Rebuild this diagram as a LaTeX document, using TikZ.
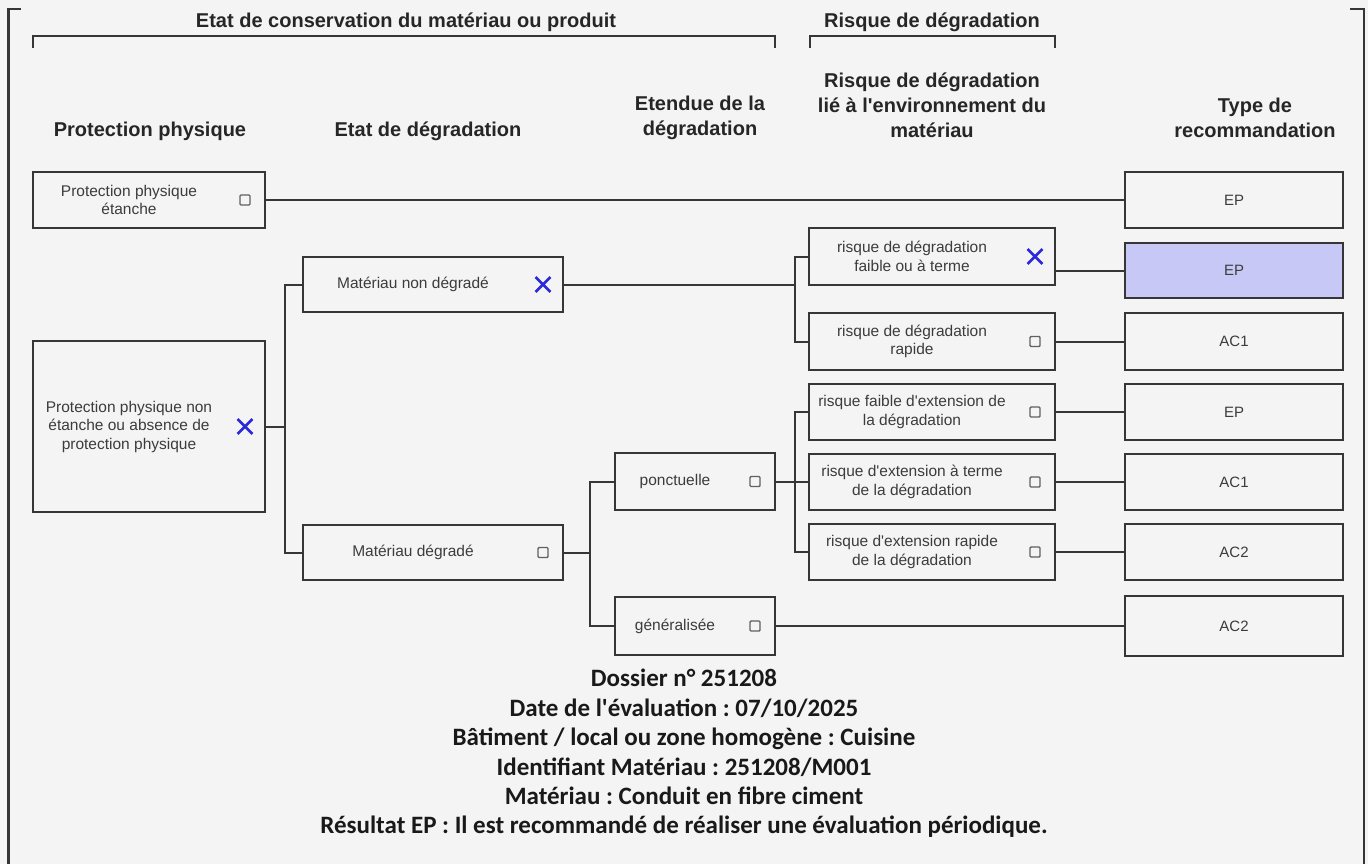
\documentclass[tikz,border=0pt]{standalone}
\usepackage{fontspec}
\setmainfont{Liberation Sans}
\newfontfamily\calibri{Carlito}
\usetikzlibrary{calc,shapes.misc}
\frenchspacing
\definecolor{bordgris}{HTML}{363636}
\definecolor{fondgris}{HTML}{F4F4F4}
\definecolor{lavande}{HTML}{C8C8F6}
\definecolor{croixbleu}{HTML}{2A2ADC}
\definecolor{textgris}{HTML}{3C3C3C}

% box with its text and its mark (case vide / croix)
\newcommand{\boite}[7]{%
  \node[box, minimum width=#4pt, minimum height=#5pt] (#1) at (#2,#3) {};
  \node[boxtext] (#1-t) at ($(#1.center)+(-20,0)$) {#6};
  \node[#7] (#1-m) at ($(#1.east)+(-21,0)$) {};
}

\begin{document}
\begin{tikzpicture}[x=1pt, y=-1pt,
  box/.style={draw=bordgris, line width=2pt, inner sep=0pt},
  boxtext/.style={align=center, text=textgris, font=\fontsize{15.5}{18.5}\selectfont},
  reco/.style={box, minimum width=218pt, minimum height=56pt, text=textgris, font=\fontsize{15}{18}\selectfont},
  header/.style={align=center, text=black!85, font=\fontsize{20}{25}\selectfont\bfseries},
  vide/.style={draw=gray!75!black, line width=1.4pt, rounded corners=1pt, minimum size=10pt, inner sep=0pt},
  croix/.style={draw=croixbleu, cross out, line width=2.8pt, minimum size=12pt, inner sep=0pt},
  lien/.style={draw=bordgris, line width=2pt}]

\fill[fondgris] (0,0) rectangle (1368,864);
\useasboundingbox (0,0) rectangle (1368,864);

% cadre
\draw[bordgris, line width=2.5pt] (21,9) -- (8.5,9) -- (8.5,864);
\draw[bordgris, line width=2.5pt] (1350,9) -- (1364,9) -- (1364,864);

% titres
\node[header] (hEtat) at (406,22) {Etat de conservation du matériau ou produit};
\node[header] (hRisque) at (932,22) {Risque de dégradation};
\draw[lien] (33,48) |- (775,36) -- (775,48);
\draw[lien] (810,48) |- (1055,36) -- (1055,48);

\node[header] (hProt) at (150,131) {Protection physique};
\node[header] (hDeg) at (428,131) {Etat de dégradation};
\node[header] (hEtendue) at (700,118) {Etendue de la\\dégradation};
\node[header] (hEnv) at (932,105) {Risque de dégradation\\lié à l\textquotesingle environnement du\\matériau};
\node[header] (hType) at (1255,118) {Type de\\recommandation};

% boites
\boite{pEtanche}{149}{200}{232}{56}{Protection physique\\étanche}{vide}
\boite{pNonEtanche}{149}{426.5}{232}{171}{Protection physique non\\étanche ou absence de\\protection physique}{croix}
\boite{matNonDeg}{433}{284.5}{260}{55}{Matériau non dégradé}{croix}
\boite{matDeg}{433}{552.5}{260}{55}{Matériau dégradé}{vide}
\boite{ponct}{695}{481.5}{160}{57}{ponctuelle}{vide}
\boite{general}{695}{626}{160}{58}{généralisée}{vide}
\boite{rFaible}{932}{256.5}{246}{57}{risque de dégradation\\faible ou à terme}{croix}
\boite{rRapide}{932}{341.5}{246}{57}{risque de dégradation\\rapide}{vide}
\boite{eFaible}{932}{412}{246}{56}{risque faible d\textquotesingle extension de\\la dégradation}{vide}
\boite{eTerme}{932}{482}{246}{56}{risque d\textquotesingle extension à terme\\de la dégradation}{vide}
\boite{eRapide}{932}{552}{246}{56}{risque d\textquotesingle extension rapide\\de la dégradation}{vide}

% recommandations
\node[reco] (T1) at (1234,200) {EP};
\node[reco, fill=lavande, minimum height=55pt] (T2) at (1234,270.5) {EP};
\node[reco, minimum height=57pt] (T3) at (1234,341.5) {AC1};
\node[reco] (T4) at (1234,412) {EP};
\node[reco] (T5) at (1234,482) {AC1};
\node[reco] (T6) at (1234,552) {AC2};
\node[reco, minimum height=60pt] (T7) at (1234,626) {AC2};

% liens
\coordinate (j1) at (285,426.5);
\coordinate (j2) at (795,284.5);
\coordinate (j3) at (590,552.5);
\coordinate (j4) at (795,481.5);

\draw[lien] (pEtanche.east) -- (T1.west);
\draw[lien] (pNonEtanche.east) -- (j1);
\draw[lien] (matNonDeg.west) -| (j1);
\draw[lien] (matDeg.west) -| (j1);
\draw[lien] (matNonDeg.east) -- (j2);
\draw[lien] (rFaible.west) -| (j2);
\draw[lien] (rRapide.west) -| (j2);
\draw[lien] (matDeg.east) -- (j3);
\draw[lien] (ponct.west) -| (j3);
\draw[lien] (general.west) -| (j3);
\draw[lien] (ponct.east) -- (j4);
\draw[lien] (eFaible.west) -| (j4);
\draw[lien] (eTerme.west) -| (j4);
\draw[lien] (eRapide.west) -| (j4);
\draw[lien] (T2.west -| rFaible.east) -- (T2.west);
\draw[lien] (rRapide.east) -- (T3.west);
\draw[lien] (eFaible.east) -- (T4.west);
\draw[lien] (eTerme.east) -- (T5.west);
\draw[lien] (eRapide.east) -- (T6.west);
\draw[lien] (general.east) -- (T7.west);

% resultat
\node[align=center, text=black!90, font=\calibri\bfseries\fontsize{25}{29.4}\selectfont] (resultat) at (684,753.5) {%
Dossier n° 251208\\
Date de l\textquotesingle évaluation : 07/10/2025\\
Bâtiment / local ou zone homogène : Cuisine\\
Identifiant Matériau : 251208/M001\\
Matériau : Conduit en fibre ciment\\
Résultat EP : Il est recommandé de réaliser une évaluation périodique.};
\end{tikzpicture}
\end{document}
